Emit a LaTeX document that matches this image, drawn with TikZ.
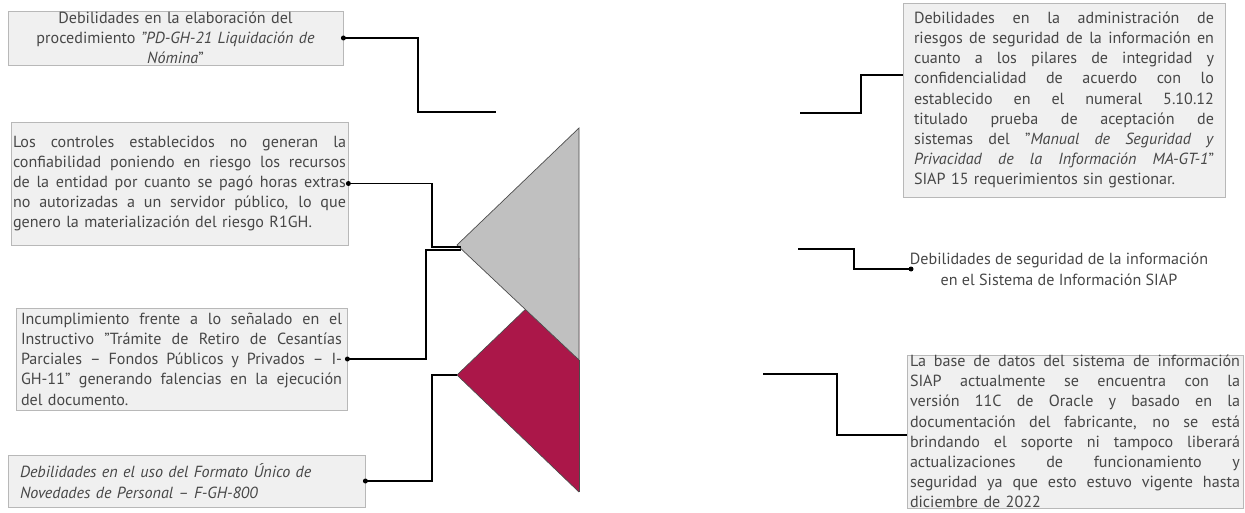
\documentclass[tikz,border=0pt]{standalone}
\usepackage{fontspec}
\setmainfont{PT Sans}
\usetikzlibrary{calc}
\definecolor{txt}{HTML}{474747}
\definecolor{boxfill}{HTML}{F0F0F0}
\definecolor{boxline}{HTML}{B8B8B8}
\definecolor{trigray}{HTML}{C0C0C0}
\definecolor{trired}{HTML}{AB1749}
\newcommand\jl[1]{\leavevmode\hbox to \hsize{\spaceskip=0.25em plus 10em minus 0.1em\relax #1}\\}
\tikzset{
  txtbox/.style={draw=boxline, fill=boxfill, line width=0.8pt, text=txt, inner sep=0pt,
    font=\fontsize{16.1}{20.2}\selectfont, align=left},
  conn/.style={line width=1.6pt, black},
  dotc/.style={fill=black, circle, inner sep=0pt, minimum size=5pt},
  tri/.style={draw=black!70, line width=0.7pt}
}
\begin{document}
\begin{tikzpicture}[x=1pt,y=-1pt]
\useasboundingbox (0,0) rectangle (1245,513);
% triangles
\coordinate (gA) at (457,245);
\coordinate (rA) at (457,375);
\fill[trired] (rA) -- (579,258) -- (579,492) -- cycle;
\draw[tri] (rA) -- (579,258) (579,492) -- (rA);
\draw[tri, fill=trigray] (gA) -- (579,128) -- (579,360) -- cycle;
\draw[tri] (579,360) -- (579,492);

% left boxes
\node[txtbox, minimum width=335pt, minimum height=54pt, text width=330pt, align=center] (b1) at (175.5,38)
 {Debilidades en la elaboración del\\ procedimiento \textit{"PD-GH-21 Liquidación de}\\ \textit{Nómina}"};
\node[txtbox, minimum width=337pt, minimum height=123pt, text width=333pt] (b2) at (179.5,183.5)
 {\jl{Los controles establecidos no generan la}
  \jl{confiabilidad poniendo en riesgo los recursos}
  \jl{de la entidad por cuanto se pagó horas extras}
  \jl{no autorizadas a un servidor público, lo que}
  genero la materialización del riesgo R1GH.};
\node[txtbox, minimum width=331pt, minimum height=102pt, text width=321pt] (b3) at (181.5,359)
 {\jl{Incumplimiento frente a lo señalado en el}
  \jl{Instructivo "Trámite de Retiro de Cesantías}
  \jl{Parciales – Fondos Públicos y Privados – I-}
  \jl{GH-11" generando falencias en la ejecución}
  del documento.};
\node[txtbox, minimum width=357pt, minimum height=52pt, text width=333pt] (b4) at (186.5,481)
 {\itshape Debilidades en el uso del Formato Único de\\ \itshape Novedades de Personal – F-GH-800};

% right boxes
\node[txtbox, minimum width=322pt, minimum height=194pt, text width=300pt] (b5) at (1064,100)
 {\jl{Debilidades en la administración de}
  \jl{riesgos de seguridad de la información en}
  \jl{cuanto a los pilares de integridad y}
  \jl{confidencialidad de acuerdo con lo}
  \jl{establecido en el numeral 5.10.12}
  \jl{titulado prueba de aceptación de}
  \jl{sistemas del "\textit{Manual de Seguridad y}}
  \jl{\textit{Privacidad de la Información MA-GT-1}"}
  SIAP 15 requerimientos sin gestionar.};
\node[text=txt, font=\fontsize{16.1}{21}\selectfont, align=center, inner sep=0pt] (b6) at (1059,269)
 {Debilidades de seguridad de la información\\ en el Sistema de Información SIAP};
\node[txtbox, minimum width=336pt, minimum height=153pt, text width=330pt] (b7) at (1075,431.5)
 {\jl{La base de datos del sistema de información}
  \jl{SIAP actualmente se encuentra con la}
  \jl{versión 11C de Oracle y basado en la}
  \jl{documentación del fabricante, no se está}
  \jl{brindando el soporte ni tampoco liberará}
  \jl{actualizaciones de funcionamiento y}
  \jl{seguridad ya que esto estuvo vigente hasta}
  diciembre de 2022};

% free ends
\coordinate (e1) at (496,112);
\coordinate (e5) at (800,113);
\coordinate (e6) at (798,249);
\coordinate (e7) at (763,374);
\coordinate (d6) at (911,269);

% connectors
\draw[conn] (b1.east) -- (418,38) -- (418,112) -- (e1);
\node[dotc] at (b1.east) {};
\draw[conn] (b2.east) -- (432,183.5) -- (432,247) -- ($(gA)+(4,2)$);
\node[dotc] at (b2.east) {};
\draw[conn] (b3.east) -- (426,359) -- (426,250) -- ($(gA)+(4,5)$);
\node[dotc] at (b3.east) {};
\draw[conn] (b4.east) -- (432,481) -- (432,375) -- (rA);
\node[dotc] at (b4.east) {};
\draw[conn] ([yshift=25pt]b5.west) -- (861,75) -- (861,113) -- (e5);
\draw[conn] (d6) -- (854,269) -- (854,249) -- (e6);
\node[dotc] at (d6) {};
\draw[conn] ([yshift=-3.5pt]b7.west) -- (837,435) -- (837,374) -- (e7);
\end{tikzpicture}
\end{document}
